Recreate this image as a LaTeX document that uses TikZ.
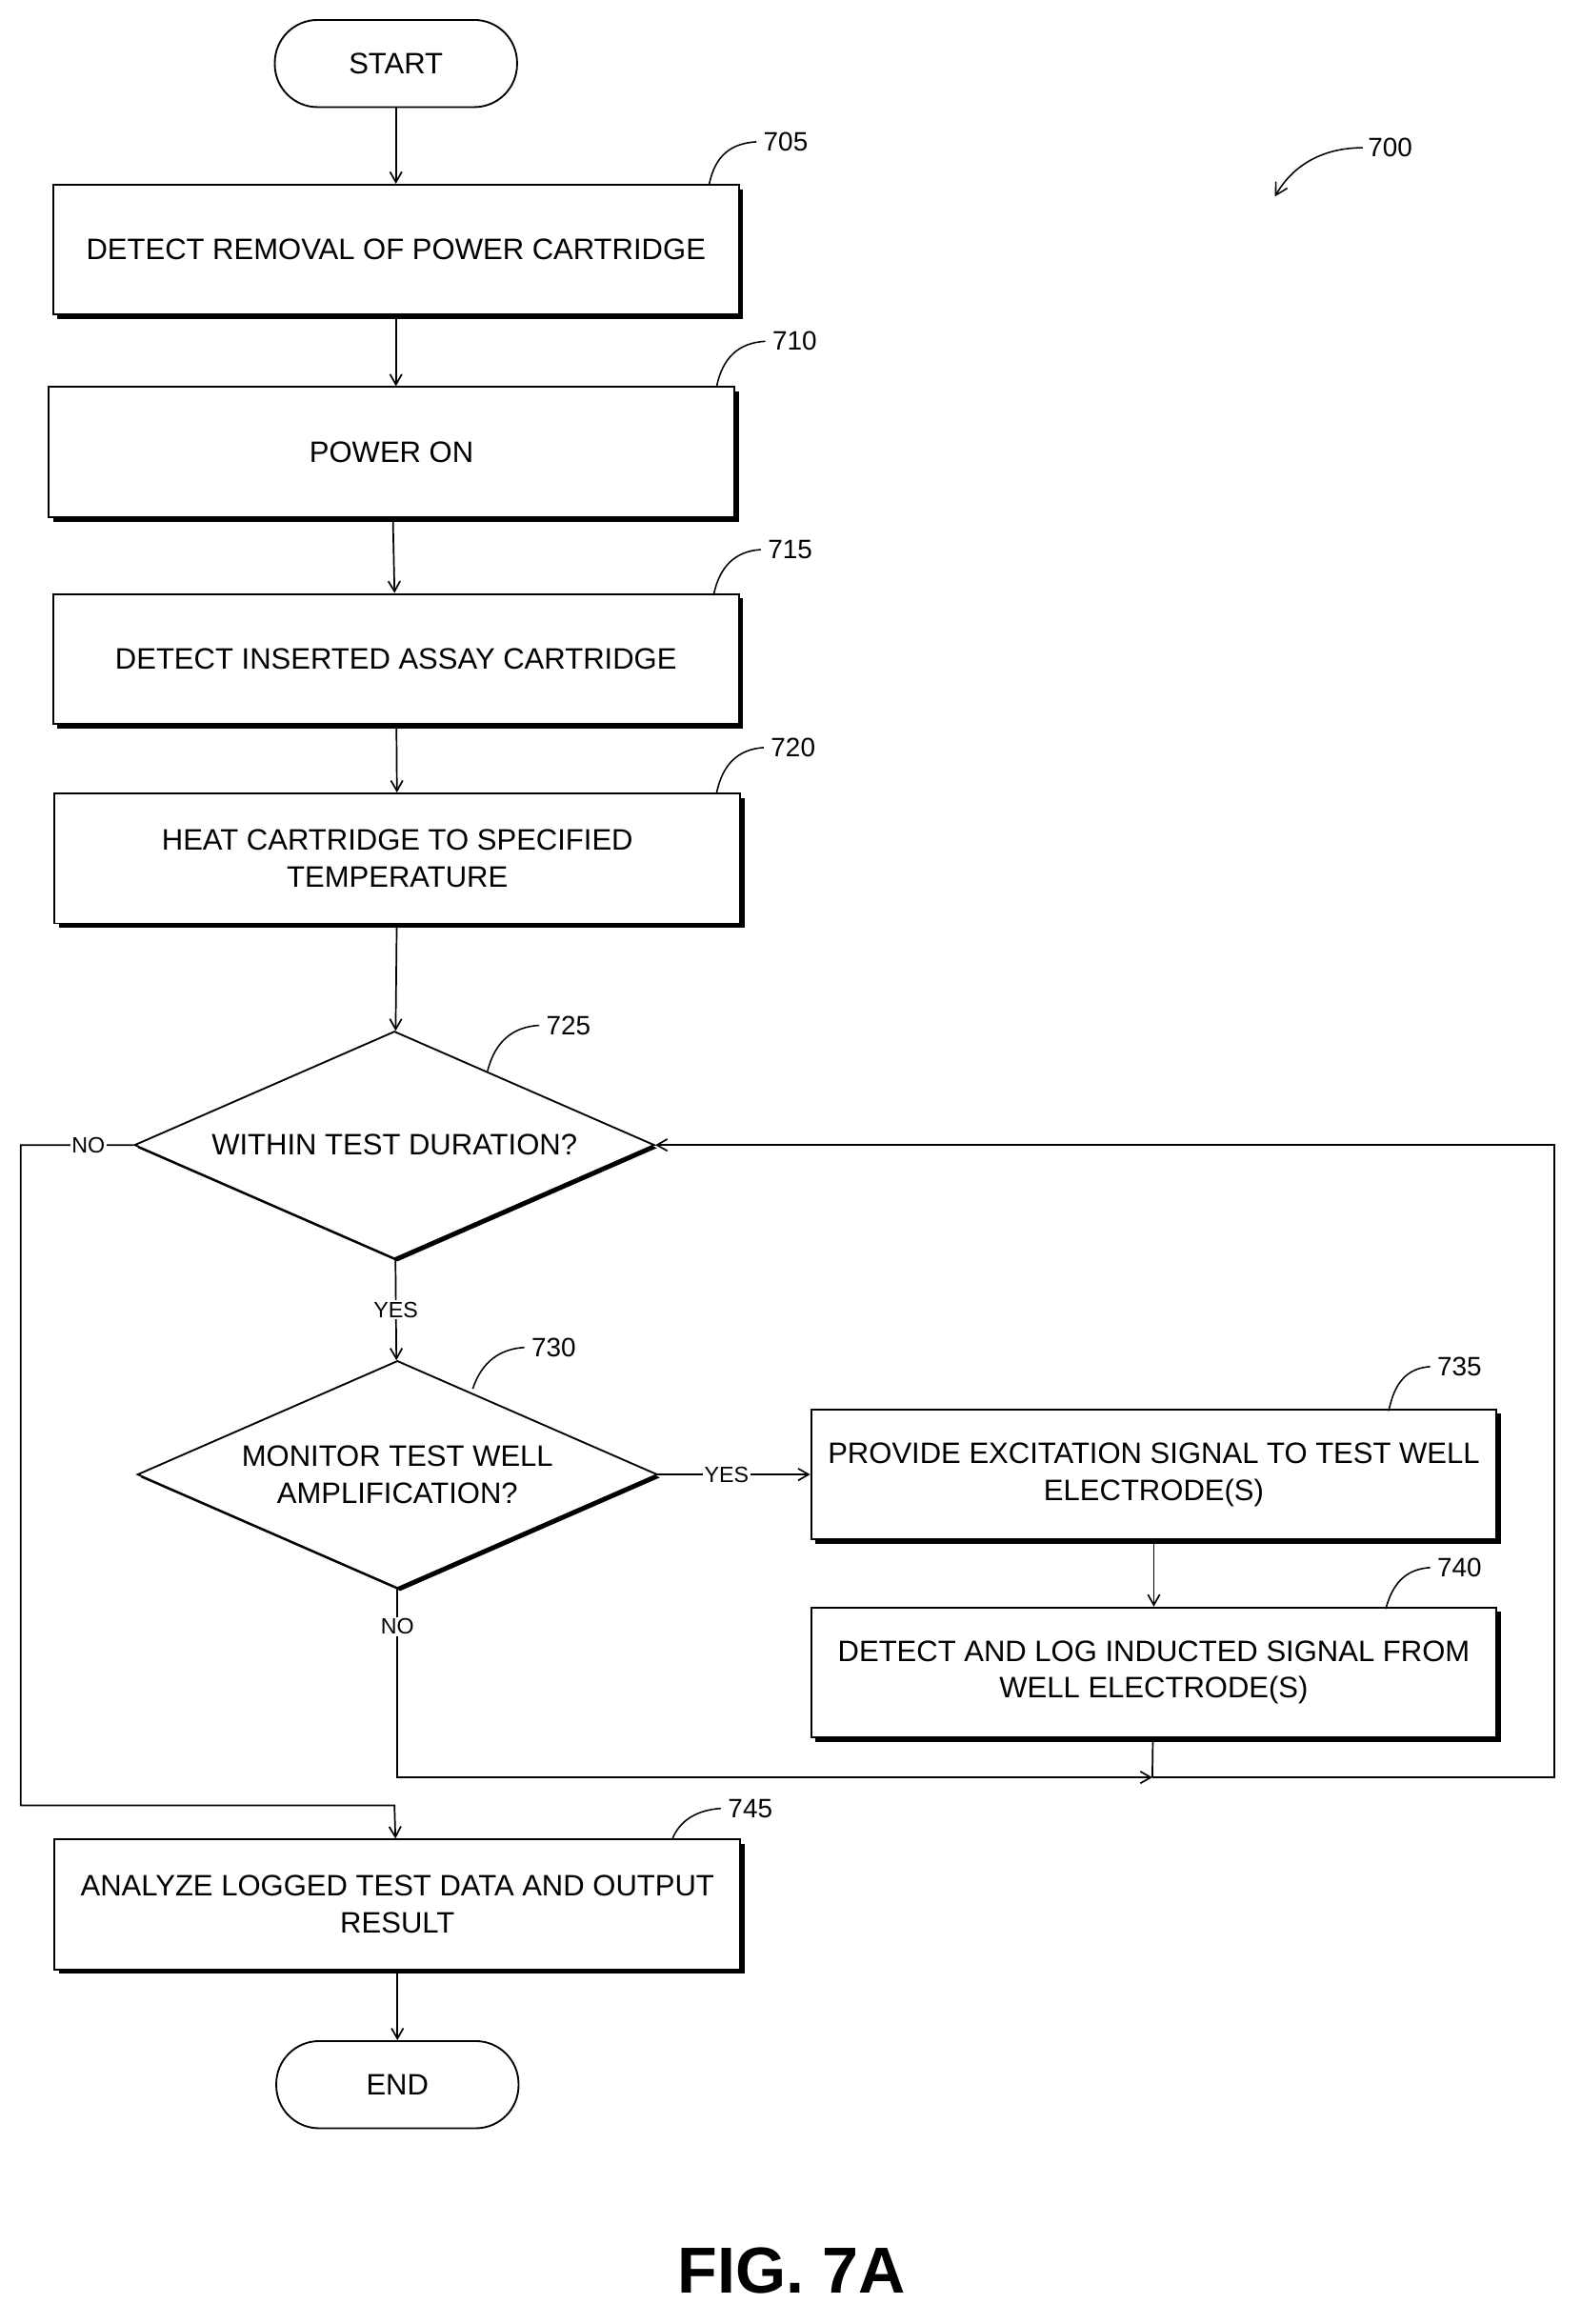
\documentclass[tikz,border=0pt]{standalone}
\usepackage{fontspec}
\setmainfont{Liberation Sans}
\usetikzlibrary{shapes.geometric,shadows,arrows.meta}
\begin{document}
\begin{tikzpicture}[x=1pt,y=-1pt,
 every node/.style={font=\fontsize{20}{25}\selectfont},
 box/.style={draw,line width=1.2pt,fill=white,minimum width=464pt,minimum height=88pt,align=center,inner sep=0pt,
   drop shadow={shadow xshift=3pt,shadow yshift=-3pt,fill=black,opacity=1}},
 term/.style={draw,line width=1.2pt,rounded corners=29pt,minimum width=164pt,minimum height=59pt,inner sep=0pt},
 dec/.style={draw,line width=1.2pt,fill=white,diamond,aspect=2.3,minimum width=352pt,minimum height=154pt,inner sep=0pt,align=center,
   drop shadow={shadow xshift=2pt,shadow yshift=-2pt,fill=black,opacity=1}},
 line/.style={line width=1.1pt},
 arr/.style={line,-{Straight Barb[length=7pt,width=8pt]}},
 lbl/.style={font=\fontsize{18}{20}\selectfont},
 small/.style={font=\fontsize{15}{18}\selectfont,fill=white,inner sep=1pt}]
\useasboundingbox (0,0) rectangle (1070,1573);
\node[term] (start) at (268,43) {START};
\node[box] (b705) at (268,169) {DETECT REMOVAL OF POWER CARTRIDGE};
\node[box] (b710) at (265,306) {POWER ON};
\node[box] (b715) at (268,446) {DETECT INSERTED ASSAY CARTRIDGE};
\node[box] (b720) at (269,581) {HEAT CARTRIDGE TO SPECIFIED\\TEMPERATURE};
\node[dec] (d725) at (267,775) {WITHIN TEST DURATION?};
\node[dec] (d730) at (269,998) {MONITOR TEST WELL\\AMPLIFICATION?};
\node[box] (b735) at (781,998) {PROVIDE EXCITATION SIGNAL TO TEST WELL\\ELECTRODE(S)};
\node[box] (b740) at (781,1132) {DETECT AND LOG INDUCTED SIGNAL FROM\\WELL ELECTRODE(S)};
\node[box] (b745) at (269,1289) {ANALYZE LOGGED TEST DATA AND OUTPUT\\RESULT};
\node[term] (end) at (269,1411) {END};
\node[font=\fontsize{44}{48}\bfseries] (fig) at (536,1537) {FIG. 7A};
\coordinate (j1) at (780,1203);
\coordinate (j2) at (267,1222);
\draw[arr] (start) -- (b705);
\draw[arr] (b705) -- (b710.north -| b705.south);
\draw[arr] (b710) -- (b715);
\draw[arr] (b715) -- (b720);
\draw[arr] (b720) -- (d725);
\draw[arr] (d725) -- node[small,pos=0.5]{YES} (d730);
\draw[arr] (d730) -- node[small,pos=0.45]{YES} (b735);
\draw[arr] (b735) -- (b740);
\draw[line] (b740) -- (j1);
\draw[arr] (d730.south) -- node[small,pos=0.2]{NO} (d730.south |- j1) -- (j1);
\draw[arr] (j1) -- (1052,1203) -- (1052,775) -- (d725.east);
\draw[arr] (d725.west) -- node[small,pos=0.4]{NO} (14,775) -- (14,1222) -- (j2) -- (b745);
\draw[arr] (b745) -- (end);
\tikzset{lead/.style={line width=1pt}}
\draw[lead] (480,125) .. controls (484,105) and (495,97) .. (512,96) node[lbl,right=1pt]{705};
\draw[lead] (485,262) .. controls (489,242) and (500,232) .. (518,231) node[lbl,right=1pt]{710};
\draw[lead] (483,403) .. controls (487,383) and (498,373) .. (515,372) node[lbl,right=1pt]{715};
\draw[lead] (485,537) .. controls (489,517) and (500,507) .. (517,506) node[lbl,right=1pt]{720};
\draw[lead] (330,725) .. controls (335,705) and (347,695) .. (365,694) node[lbl,right=1pt]{725};
\draw[lead] (320,940) .. controls (326,922) and (338,913) .. (355,912) node[lbl,right=1pt]{730};
\draw[lead] (940,955) .. controls (944,935) and (953,926) .. (968,925) node[lbl,right=1pt]{735};
\draw[lead] (938,1089) .. controls (943,1070) and (953,1062) .. (968,1061) node[lbl,right=1pt]{740};
\draw[lead] (455,1245) .. controls (460,1232) and (472,1225) .. (488,1224) node[lbl,right=1pt]{745};
\node[lbl] (n700) at (941,100) {700};
\draw[lead,-{Straight Barb[length=8pt,width=9pt]}] (n700.west) .. controls (895,100) and (875,112) .. (863,133);
\end{tikzpicture}
\end{document}
